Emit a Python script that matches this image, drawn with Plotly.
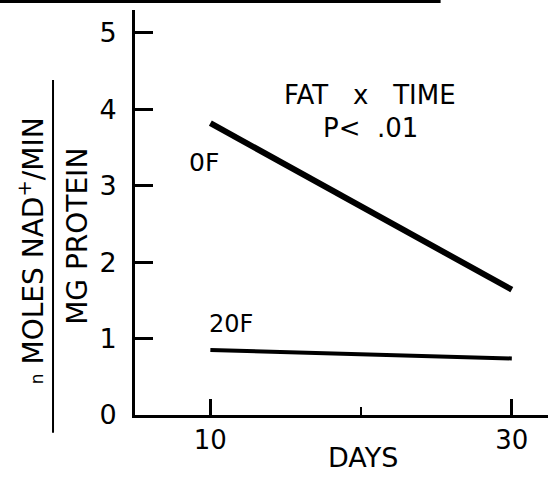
import plotly.graph_objects as go

# Enzyme activity over time for the two dietary fat groups
days = [10, 30]
activity_0f = [3.82, 1.64]
activity_20f = [0.85, 0.74]

group_labels = ["0F", "20F"]
label_x = [9.6, 11.4]
label_y = [3.31, 1.19]
label_sizes = [25, 24]

x_ticks = [10, 30]
y_ticks = [0, 1, 2, 3, 4, 5]

FONT = "DejaVu Sans"
INK = "black"

fig = go.Figure()
fig.add_trace(go.Scatter(x=days, y=activity_0f, mode="lines",
                         line=dict(color=INK, width=6), showlegend=False))
fig.add_trace(go.Scatter(x=days, y=activity_20f, mode="lines",
                         line=dict(color=INK, width=4), showlegend=False))

for name, lx, ly, sz in zip(group_labels, label_x, label_y, label_sizes):
    fig.add_annotation(x=lx, y=ly, text=name, showarrow=False,
                       xanchor="center", yanchor="middle",
                       font=dict(family=FONT, size=sz, color=INK))

fig.add_annotation(x=20.6, y=4.19, text="FAT   x   TIME", showarrow=False,
                   xanchor="center", yanchor="middle",
                   font=dict(family=FONT, size=26, color=INK))
fig.add_annotation(x=20.6, y=3.76, text="P<  .01", showarrow=False,
                   xanchor="center", yanchor="middle",
                   font=dict(family=FONT, size=26, color=INK))

# X axis title
fig.add_annotation(xref="paper", yref="paper", x=0.552, y=-0.106,
                   text="DAYS", showarrow=False,
                   xanchor="center", yanchor="middle",
                   font=dict(family=FONT, size=27, color=INK))

# Y axis title drawn as a fraction
fig.add_annotation(xref="paper", yref="paper", x=-0.249, y=0.405,
                   text="<span style='font-size:17px'>n</span> MOLES NAD<sup>+</sup>/MIN",
                   textangle=-90, showarrow=False,
                   xanchor="center", yanchor="middle",
                   font=dict(family=FONT, size=28, color=INK))
fig.add_annotation(xref="paper", yref="paper", x=-0.138, y=0.44,
                   text="MG PROTEIN", textangle=-90, showarrow=False,
                   xanchor="center", yanchor="middle",
                   font=dict(family=FONT, size=28, color=INK))
fig.add_shape(type="line", xref="paper", yref="paper",
              x0=-0.1985, x1=-0.1985, y0=-0.044, y1=0.827,
              line=dict(color=INK, width=2))

# Heavy rule across the top edge
fig.add_shape(type="line", xref="paper", yref="paper",
              x0=-0.327, x1=0.74, y0=1.022, y1=1.022,
              line=dict(color=INK, width=4))

fig.update_xaxes(range=[5, 32.4], tickvals=x_ticks, ticktext=["10", "30"],
                 ticks="inside", ticklen=16, tickwidth=3, tickcolor=INK,
                 minor=dict(tick0=0, dtick=10, ticks="inside", ticklen=8,
                            tickwidth=2, tickcolor=INK),
                 showline=True, linewidth=3, linecolor=INK,
                 showgrid=False, zeroline=False,
                 tickfont=dict(family=FONT, size=26, color=INK))
fig.update_yaxes(range=[0, 5.3], tickvals=y_ticks,
                 ticks="inside", ticklen=18, tickwidth=3, tickcolor=INK,
                 ticklabelstandoff=10,
                 showline=True, linewidth=3, linecolor=INK,
                 showgrid=False, zeroline=False,
                 tickfont=dict(family=FONT, size=27, color=INK))

fig.update_layout(width=548, height=482,
                  margin=dict(l=135, r=0, t=10, b=67),
                  paper_bgcolor="white", plot_bgcolor="white")

fig.write_html("out.html")
